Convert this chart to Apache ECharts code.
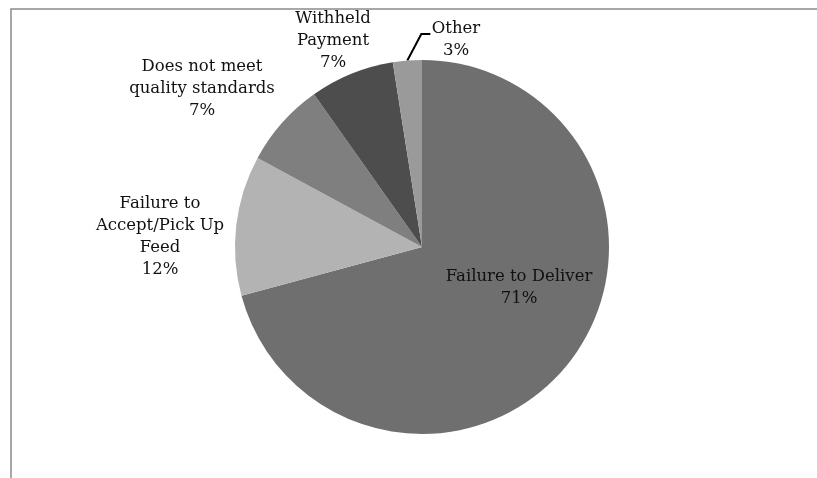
<!DOCTYPE html>
<html>
<head>
<meta charset="utf-8">
<script src="https://cdn.jsdelivr.net/npm/echarts@6/dist/echarts.min.js"></script>
<style>html,body{margin:0;padding:0;background:#fff;}#c{width:817px;height:478px;}</style>
</head>
<body>
<div id="c"></div>
<script>
var categories = ['Failure to Deliver', 'Failure to\nAccept/Pick Up\nFeed', 'Does not meet\nquality standards', 'Withheld\nPayment', 'Other'];
var values = [70.8, 12.1, 7.3, 7.3, 2.5];
var sliceColors = ['#6f6f6f', '#b3b3b3', '#7f7f7f', '#4d4d4d', '#9a9a9a'];
var labelPositions = [[519, 288], [160, 237], [202, 89], [333, 41], [456, 40]];

var chart = echarts.init(document.getElementById('c'), null, {renderer: 'canvas'});
var data = categories.map(function (n, i) {
  return {
    name: n,
    value: values[i],
    itemStyle: {color: sliceColors[i]},
    labelLine: {show: i === 4, lineStyle: {color: '#000', width: 2}}
  };
});
chart.setOption({
  animation: false,
  backgroundColor: '#fff',
  graphic: [{
    type: 'rect', shape: {x: 11, y: 9, width: 900, height: 600},
    style: {fill: 'none', stroke: '#8a8a8a', lineWidth: 1.5}, silent: true, z: -1
  }],
  series: [{
    type: 'pie',
    center: [422, 247],
    radius: 187,
    startAngle: 90,
    clockwise: true,
    data: data,
    label: {
      show: true,
      position: 'outside',
      fontFamily: 'DejaVu Serif',
      fontSize: 16.5,
      lineHeight: 22,
      color: '#111',
      align: 'center',
      formatter: function (p) { return p.name + '\n' + Math.round(p.value) + '%'; }
    },
    labelLine: {length: 10, length2: 10},
    labelLayout: function (p) {
      var pos = labelPositions[p.dataIndex];
      var o = {x: pos[0], y: pos[1], align: 'center', verticalAlign: 'middle'};
      if (p.dataIndex === 4 && p.labelLinePoints) {
        var s = p.labelLinePoints[0];
        o.labelLinePoints = [[s[0], s[1]], [s[0] + 14, pos[1] - 6], [s[0] + 23, pos[1] - 6]];
      }
      return o;
    }
  }]
});
</script>
</body>
</html>
